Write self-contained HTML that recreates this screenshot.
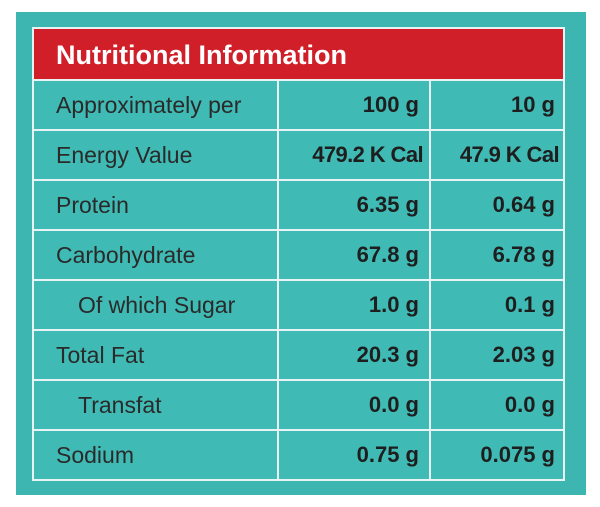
<!DOCTYPE html><html><head><style>
body{margin:0;width:600px;height:507px;background:#fff;position:relative;font-family:"Liberation Sans",sans-serif;overflow:hidden}
.box{position:absolute;left:16px;top:12px;width:570px;height:483px;background:#3db6b1}
.hd{position:absolute;left:32px;top:27px;width:533px;height:52px;background:#d01f29;border:2px solid #e8f4f3;border-bottom:none;color:#fff;font-size:27px;font-weight:bold;line-height:52px;padding-left:22px;box-sizing:border-box}
.r{position:absolute;left:32px;width:533px;height:50px;border:2px solid #e8f4f3;border-top:none;box-sizing:border-box;font-size:23px;color:#2a2a2a;background:#3fbab4}
.r div{position:absolute;top:0;line-height:48px}
.a{left:22px}.b{left:243px;width:150px;text-align:right;font-weight:bold;border-left:2px solid #e8f4f3;height:48px;padding-right:8px;box-sizing:border-box;font-size:22px;color:#1e1e1e}
.c{left:395px;width:134px;text-align:right;font-weight:bold;border-left:2px solid #e8f4f3;height:48px;padding-right:8px;box-sizing:border-box;font-size:22px;color:#1e1e1e}
</style></head><body>
<div class="box"></div>
<div class="hd">Nutritional Information</div>
<div class="r" style="top:79px;border-top:2px solid #e8f4f3;height:52px"><div class="a">Approximately per</div><div class="b">100 g</div><div class="c">10 g</div></div>
<div class="r" style="top:131px"><div class="a">Energy Value</div><div class="b" style="padding-right:4px;letter-spacing:-0.6px">479.2 K Cal</div><div class="c" style="padding-right:4px;letter-spacing:-0.6px">47.9 K Cal</div></div>
<div class="r" style="top:181px"><div class="a">Protein</div><div class="b">6.35 g</div><div class="c">0.64 g</div></div>
<div class="r" style="top:231px"><div class="a">Carbohydrate</div><div class="b">67.8 g</div><div class="c">6.78 g</div></div>
<div class="r" style="top:281px"><div class="a" style="left:44px">Of which Sugar</div><div class="b">1.0 g</div><div class="c">0.1 g</div></div>
<div class="r" style="top:331px"><div class="a">Total Fat</div><div class="b">20.3 g</div><div class="c">2.03 g</div></div>
<div class="r" style="top:381px"><div class="a" style="left:44px">Transfat</div><div class="b">0.0 g</div><div class="c">0.0 g</div></div>
<div class="r" style="top:431px"><div class="a">Sodium</div><div class="b">0.75 g</div><div class="c">0.075 g</div></div>
</body></html>
